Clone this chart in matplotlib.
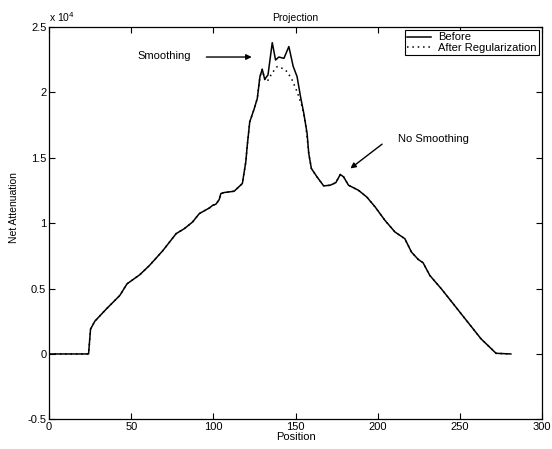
import matplotlib
matplotlib.use("Agg")
import matplotlib.pyplot as plt
from matplotlib.ticker import FuncFormatter

plt.rcParams['font.family'] = ['Liberation Sans', 'DejaVu Sans']

# projection profile (values in raw units)
position = [0, 24, 25.2, 27.8, 34.9, 43, 47.4, 55.1, 61.1, 69.2, 77.3, 82.3,
            87.3, 91.4, 97.5, 99.5, 101.5, 103.5, 104.5, 106.5, 112.6, 117.6,
            119.7, 120.6, 122.1, 124.7, 126.7, 128.3, 129.7, 131.2, 133.2,
            135.8, 137.8, 139.8, 142.9, 145.9, 148.5, 150.9, 153, 155, 157,
            158, 159.6, 163, 167.1, 171.1, 174.5, 177.2, 179.2, 182.2, 188.3,
            193.3, 198.4, 204.4, 210.5, 216.5, 220.5, 224.6, 227.6, 231.7,
            238.7, 246.8, 254.8, 262.9, 272, 281]
before = [0, 0, 1900, 2500, 3450, 4470, 5360, 6050, 6770, 7900, 9200, 9580,
          10090, 10730, 11160, 11360, 11450, 11800, 12260, 12340, 12440, 13030,
          14690, 15960, 17750, 18700, 19540, 21200, 21760, 21000, 21330,
          23800, 22470, 22700, 22600, 23500, 22000, 21200, 19670, 18390, 16860,
          15330, 14180, 13540, 12850, 12900, 13100, 13720, 13540, 12900, 12510,
          12000, 11240, 10210, 9320, 8810, 7790, 7230, 6970, 6000,
          4980, 3700, 2430, 1150, 50, 0]

# regularized segment (elsewhere identical to "before")
reg_pos = [132.6, 135.8, 138.8, 141.8, 144.9, 147.9, 150.9, 154, 156, 157.4]
reg_val = [20800, 21500, 21970, 21840, 21580, 20940, 20050, 18900, 17620, 16090]

after_x = [p for p in position if p < reg_pos[0]] + reg_pos + [p for p in position if p > reg_pos[-1]]
after_y = [v for p, v in zip(position, before) if p < reg_pos[0]] + reg_val + \
          [v for p, v in zip(position, before) if p > reg_pos[-1]]

fig = plt.figure(figsize=(5.52, 4.49), dpi=100)
ax = fig.add_axes([0.089, 0.066, 0.893, 0.874])

ax.plot(position, before, color="k", lw=1.1, label="Before")
ax.plot(after_x, after_y, color="k", lw=1.1, ls=(0, (1, 2.5)), label="After Regularization")

ax.set_xlim(0, 300)
ax.set_ylim(-5000, 25000)
ax.set_xticks([0, 50, 100, 150, 200, 250, 300])
ax.set_yticks([-5000, 0, 5000, 10000, 15000, 20000, 25000])
ax.yaxis.set_major_formatter(FuncFormatter(lambda v, p: "%g" % (v / 1e4)))
ax.text(0.0, 1.008, r"x 10$^4$", transform=ax.transAxes, fontsize=7.5,
        ha="left", va="bottom")
ax.tick_params(direction="in", top=True, right=True, labelsize=8, length=4,
               width=0.8, pad=2)
for s in ax.spines.values():
    s.set_linewidth(0.9)

ax.set_title("Projection", fontsize=7.5, pad=4)
ax.set_xlabel("Position", fontsize=8, labelpad=0)
ax.set_ylabel("Net Attenuation", fontsize=7.5, labelpad=6)
ax.yaxis.set_label_coords(-0.062, 0.54)

ax.annotate("", xy=(125, 22700), xytext=(94, 22700),
            arrowprops=dict(arrowstyle="-|>", color="k", lw=1, mutation_scale=8))
ax.text(70, 22760, "Smoothing", fontsize=8, ha="center", va="center")
ax.annotate("", xy=(182, 14050), xytext=(204, 16170),
            arrowprops=dict(arrowstyle="-|>", color="k", lw=1, mutation_scale=8))
ax.text(234, 16400, "No Smoothing", fontsize=8, ha="center", va="center")

leg = ax.legend(loc="upper right", fontsize=8, fancybox=False, framealpha=1,
                edgecolor="k", handlelength=2.2, borderaxespad=0.3,
                borderpad=0.2, labelspacing=0.05, handletextpad=0.6)
leg.get_frame().set_linewidth(0.8)

fig.savefig("out.png", dpi=100)
